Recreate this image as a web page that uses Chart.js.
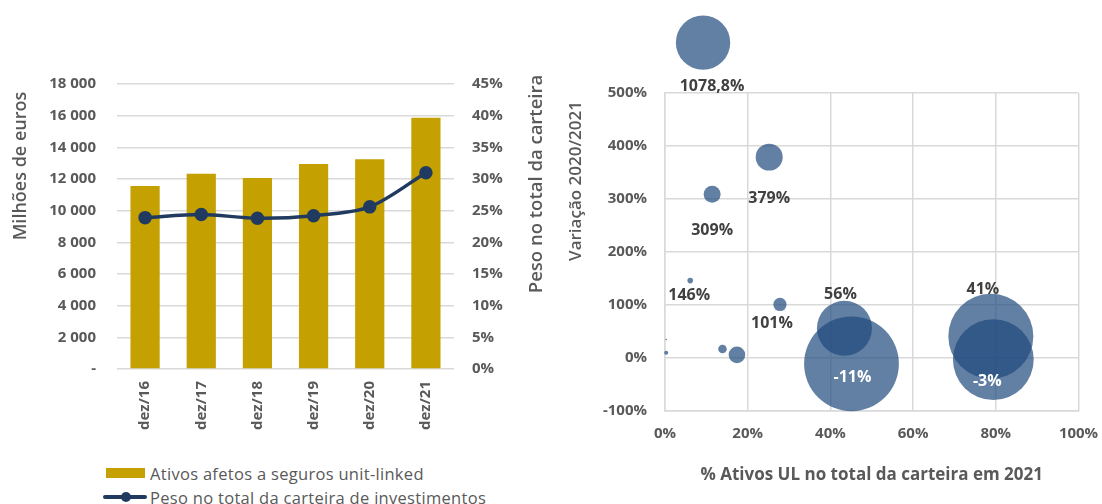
<!DOCTYPE html>
<html lang="pt">
<head>
<meta charset="utf-8">
<title>Ativos afetos a seguros unit-linked</title>
<script src="https://cdn.jsdelivr.net/npm/chart.js@4.4.1/dist/chart.umd.min.js"></script>
<style>
  html, body { margin: 0; padding: 0; background: #fff; }
  body {
    width: 1102px; height: 504px; position: relative; overflow: hidden;
    font-family: "Open Sans", sans-serif; color: #595959;
  }
  #evolucao { position: absolute; left: 0; top: 0; }
  #dispersao { position: absolute; left: 560px; top: 0; }
  .item {
    position: absolute; left: 103px; height: 20px;
    display: flex; align-items: center; font-size: 16.5px; letter-spacing: 0.3px; white-space: nowrap;
  }
  .sym { position: relative; width: 44px; height: 20px; margin-right: 3px; }
  .caixa { position: absolute; left: 3px; top: 5px; width: 39px; height: 10px; background: #C4A000; }
  .linha { position: absolute; left: 0; top: 8px; width: 44px; height: 4px; background: #203A60; border-radius: 2px; }
  .ponto { position: absolute; left: 18px; top: 5px; width: 10px; height: 10px; border-radius: 50%; background: #203A60; }
</style>
</head>
<body>
<canvas id="evolucao" width="560" height="450"></canvas>
<canvas id="dispersao" width="542" height="504"></canvas>

<div class="item" style="top:463px"><span class="sym"><span class="caixa"></span></span>Ativos afetos a seguros unit-linked</div>
<div class="item" style="top:487px"><span class="sym"><span class="linha"></span><span class="ponto"></span></span>Peso no total da carteira de investimentos</div>

<script>
// Evolução dos ativos unit-linked (milhões de euros) e peso na carteira (%)
const periodos = ['dez/16', 'dez/17', 'dez/18', 'dez/19', 'dez/20', 'dez/21'];
const ativosUL = [11560, 12330, 12060, 12950, 13240, 15870];
const pesoCarteira = [23.9, 24.4, 23.8, 24.2, 25.6, 31.0];
const eixoMilhoes = [0, 2000, 4000, 6000, 8000, 10000, 12000, 14000, 16000, 18000];
const eixoPeso = [0, 5, 10, 15, 20, 25, 30, 35, 40, 45];

// Por empresa: peso dos ativos UL na carteira em 2021 (x), variação 2020/2021 (y), dimensão da bolha
const pesoUL2021 = [9.2, 25.2, 11.4, 6.1, 27.8, 43.4, 45.1, 78.8, 79.4, 0.3, 0.3, 13.9, 17.4];
const variacao = [1078.8, 379, 309, 146, 101, 56, -11, 41, -3, 10, 35, 17, 6];
const dimensao = [32.9, 8.1, 3.2, 0.35, 1.94, 33.7, 100, 80.4, 72.6, 0.18, 0.03, 0.82, 3.07];
const comRotulo = [true, true, true, true, true, true, true, true, true, false, false, false, false];
const eixoX = [0, 20, 40, 60, 80, 100];
const eixoY = [-100, 0, 100, 200, 300, 400, 500];

// valores acima do eixo ficam desenhados logo acima do topo do gráfico
const Y_FORA_ESCALA = 595;
const RAIO_MAX = 47.4;

// posição dos rótulos em relação ao centro de cada bolha (px) e se ficam dentro dela
const rotuloDesvio = [[9, 44], [0, 41], [0, 36], [-1, 15], [-8, 19], [-4, -34], [1, 14], [-8, -47], [-6, 22], [0, 0], [0, 0], [0, 0], [0, 0]];
const rotuloDentro = [false, false, false, false, false, false, true, false, true, false, false, false, false];

const FONTE = '"Open Sans", sans-serif';
const CINZA = '#595959';
const GRELHA = '#D9D9D9';
const AZUL = '#203A60';

Chart.defaults.font.family = FONTE;
Chart.defaults.color = CINZA;

const fonteEixo = { size: 15, weight: 700 };

function milhares(v) {
  if (v === 0) return '-';
  return String(v).replace(/\B(?=(\d{3})+(?!\d))/g, ' ');
}

function fixarTicks(valores) {
  return scale => { scale.ticks = valores.map(v => ({ value: v })); };
}

// títulos verticais lidos de baixo para cima, em qualquer lado do gráfico
function titulosVerticais(itens) {
  return {
    id: 'titulosVerticais',
    afterDraw(chart) {
      const ctx = chart.ctx;
      itens.forEach(t => {
        ctx.save();
        ctx.translate(t.x, t.y);
        ctx.rotate(-Math.PI / 2);
        ctx.font = '600 ' + t.size + 'px ' + FONTE;
        ctx.fillStyle = CINZA;
        ctx.textAlign = 'center';
        ctx.textBaseline = 'middle';
        ctx.fillText(t.text, 0, 0);
        ctx.restore();
      });
    }
  };
}

new Chart(document.getElementById('evolucao'), {
  type: 'bar',
  data: {
    labels: periodos,
    datasets: [
      {
        type: 'line',
        label: 'Peso no total da carteira de investimentos',
        data: pesoCarteira,
        yAxisID: 'y1',
        borderColor: AZUL,
        backgroundColor: AZUL,
        pointBackgroundColor: AZUL,
        pointBorderColor: AZUL,
        borderWidth: 3.5,
        pointRadius: 5,
        tension: 0.3,
        order: 0
      },
      {
        type: 'bar',
        label: 'Ativos afetos a seguros unit-linked',
        data: ativosUL,
        yAxisID: 'y',
        backgroundColor: '#C4A000',
        barPercentage: 0.52,
        categoryPercentage: 1,
        order: 1
      }
    ]
  },
  options: {
    responsive: false,
    animation: false,
    events: [],
    layout: { padding: { top: 84, left: 0, right: 0, bottom: 0 } },
    plugins: {
      legend: { display: false },
      tooltip: { enabled: false }
    },
    scales: {
      x: {
        grid: { display: false, drawTicks: false },
        border: { display: false },
        ticks: { minRotation: 90, maxRotation: 90, padding: 12, font: fonteEixo },
        afterFit: s => { s.height = 81; }
      },
      y: {
        position: 'left',
        min: 0,
        max: 18000,
        afterBuildTicks: fixarTicks(eixoMilhoes),
        ticks: { callback: milhares, padding: 21, font: fonteEixo },
        grid: { color: GRELHA, lineWidth: 1.5, drawTicks: false },
        border: { display: false },
        afterFit: s => { s.width = 117; }
      },
      y1: {
        position: 'right',
        min: 0,
        max: 45,
        afterBuildTicks: fixarTicks(eixoPeso),
        ticks: { callback: v => v + '%', padding: 18, font: fonteEixo },
        grid: { display: false, drawTicks: false },
        border: { display: false },
        afterFit: s => { s.width = 106; }
      }
    }
  },
  plugins: [titulosVerticais([
    { text: 'Milhões de euros', x: 21, y: 166, size: 18 },
    { text: 'Peso no total da carteira', x: 537, y: 184, size: 18.5 }
  ])]
});

const bolhas = pesoUL2021.map((x, i) => ({
  x: x,
  y: Math.min(variacao[i], Y_FORA_ESCALA),
  r: RAIO_MAX * Math.sqrt(dimensao[i] / 100)
}));

// bolhas acima do eixo (o Chart.js salta-as por estarem fora da área) e rótulos de valor
const rotulosBolhas = {
  id: 'rotulosBolhas',
  afterDatasetsDraw(chart) {
    const ctx = chart.ctx;
    const area = chart.chartArea;
    const meta = chart.getDatasetMeta(0);
    const semTopo = { left: area.left, right: area.right, top: -Infinity, bottom: area.bottom };
    meta.data.forEach(el => {
      if (el.y < area.top) el.draw(ctx, semTopo);
    });
    ctx.save();
    ctx.font = '700 16px ' + FONTE;
    ctx.textAlign = 'center';
    ctx.textBaseline = 'middle';
    meta.data.forEach((el, i) => {
      if (!comRotulo[i]) return;
      const texto = String(variacao[i]).replace('.', ',') + '%';
      ctx.fillStyle = rotuloDentro[i] ? '#FFFFFF' : '#404040';
      ctx.fillText(texto, el.x + rotuloDesvio[i][0], el.y + rotuloDesvio[i][1]);
    });
    ctx.restore();
  }
};

new Chart(document.getElementById('dispersao'), {
  type: 'bubble',
  data: {
    datasets: [{
      label: 'Variação 2020/2021',
      data: bolhas,
      backgroundColor: 'rgba(31, 73, 125, 0.7)',
      borderWidth: 0,
      clip: false
    }]
  },
  options: {
    responsive: false,
    animation: false,
    events: [],
    // sem margem automática para o raio das bolhas: as maiores podem encostar ao limite
    layout: { autoPadding: false, padding: { top: 93, left: 0, right: 23.5, bottom: 0 } },
    plugins: {
      legend: { display: false },
      tooltip: { enabled: false }
    },
    scales: {
      x: {
        min: 0,
        max: 100,
        afterBuildTicks: fixarTicks(eixoX),
        // o afastamento vertical dos rótulos vem de um traço invisível, para não alargar a margem direita
        ticks: { callback: v => v + '%', padding: 0, maxRotation: 0, font: fonteEixo },
        grid: { color: GRELHA, lineWidth: 1.5, drawTicks: true, tickLength: 14, tickColor: 'rgba(0,0,0,0)' },
        border: { color: GRELHA, width: 1.5 },
        title: {
          display: true,
          text: '% Ativos UL no total da carteira em 2021',
          font: { size: 17, weight: 700 },
          padding: { top: 0, bottom: 19 }
        },
        afterFit: s => { s.height = 93; }
      },
      y: {
        min: -100,
        max: 500,
        afterBuildTicks: fixarTicks(eixoY),
        ticks: { callback: v => v + '%', padding: 18, font: fonteEixo },
        grid: { color: GRELHA, lineWidth: 1.5, drawTicks: false },
        border: { color: GRELHA, width: 1.5 },
        afterFit: s => { s.width = 105; }
      }
    }
  },
  plugins: [rotulosBolhas, titulosVerticais([
    { text: 'Variação 2020/2021', x: 16, y: 181, size: 17 }
  ])]
});
</script>
</body>
</html>
